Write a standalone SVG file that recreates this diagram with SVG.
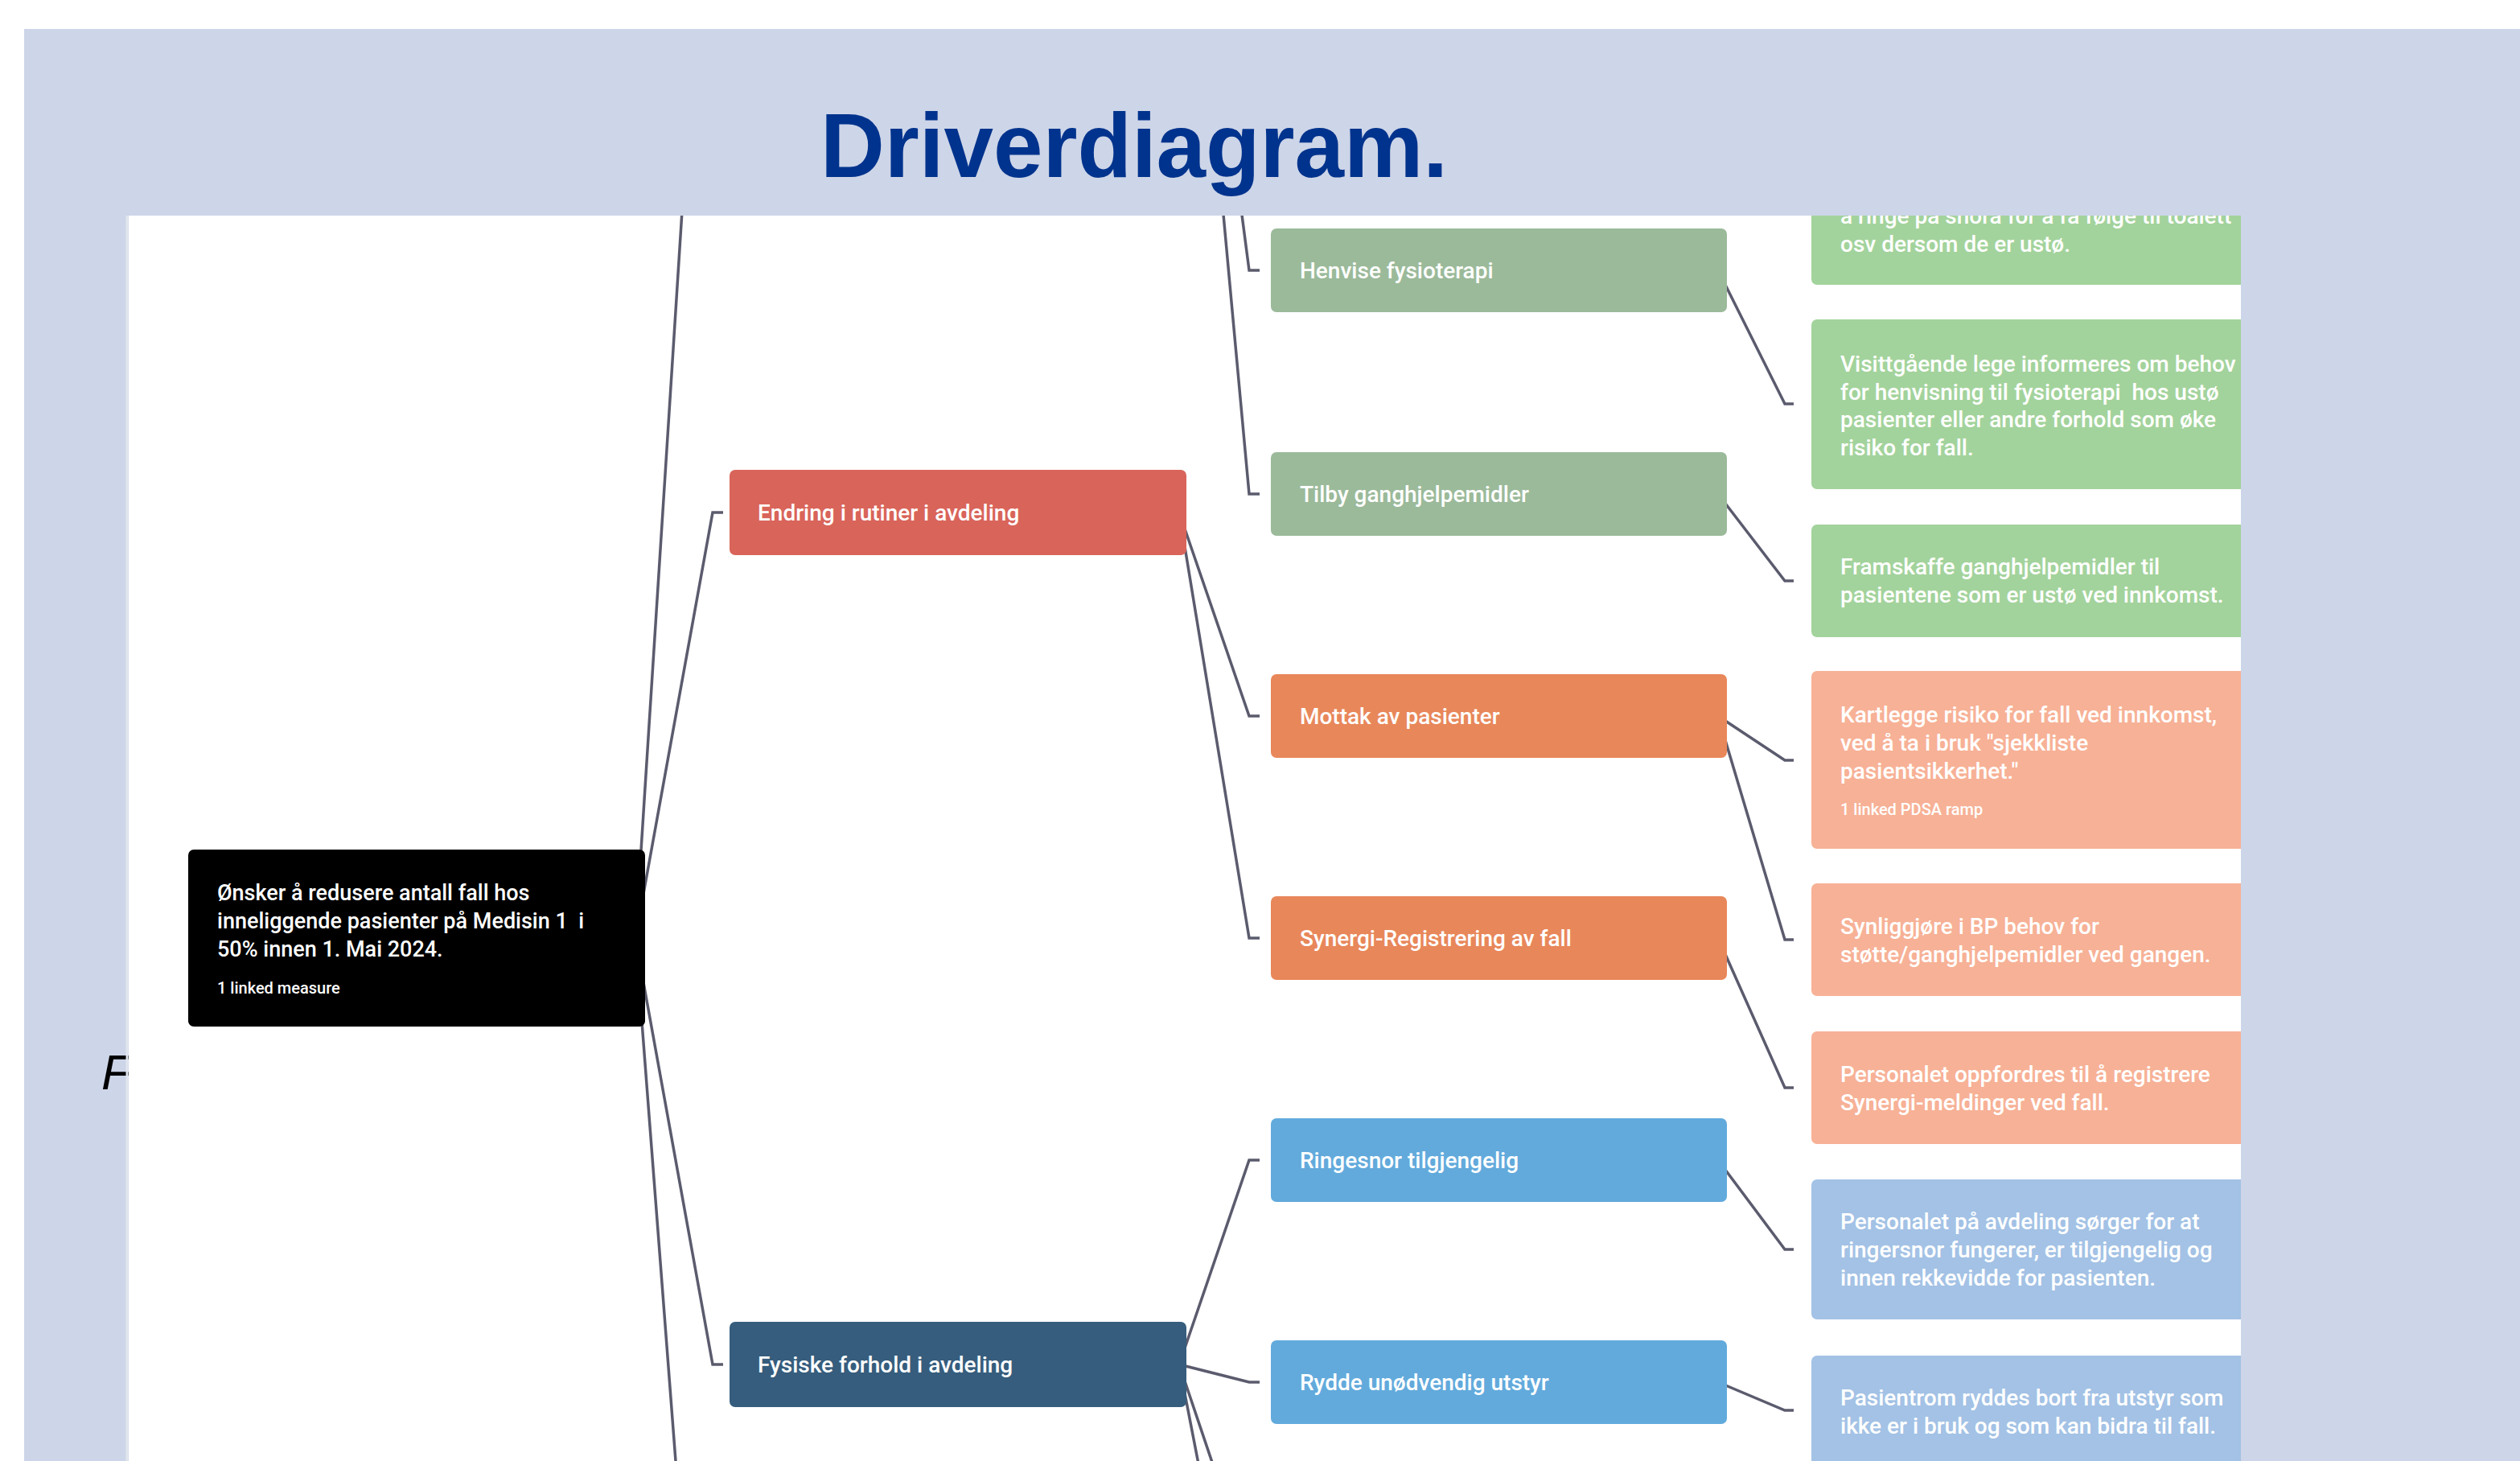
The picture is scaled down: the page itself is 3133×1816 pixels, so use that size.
<svg xmlns="http://www.w3.org/2000/svg" width="3133" height="1816" viewBox="0 0 3133 1816">
<defs>
<clipPath id="panel"><rect x="160" y="268" width="2626" height="1548"/></clipPath>
<style>
.lbl{font-family:Roboto,"Liberation Sans",sans-serif;font-size:28px;font-weight:500;fill:#ffffff;white-space:pre}
.txt{font-family:Roboto,"Liberation Sans",sans-serif;font-size:28px;font-weight:500;fill:#ffffff;white-space:pre}
.rt{font-family:Roboto,"Liberation Sans",sans-serif;font-size:27px;font-weight:500;fill:#ffffff;white-space:pre}
.small{font-family:Roboto,"Liberation Sans",sans-serif;font-size:20px;font-weight:500;fill:#ffffff}
.conn{fill:none;stroke:#5B5B6E;stroke-width:3.5;stroke-linejoin:miter}
.g2{fill:#9BBA9A}.g3{fill:#A3D39C}
.o2{fill:#E8875A}.o3{fill:#F7B196}
.b2{fill:#62AADC}.b3{fill:#A3C2E5}
</style>
</defs>
<rect x="0" y="0" width="3133" height="1816" fill="#ffffff"/>
<rect x="30" y="36" width="3103" height="1780" fill="#CDD5E8"/>
<text x="1020" y="220" font-family="'Liberation Sans',Arial,sans-serif" font-weight="bold" font-size="114" fill="#00338D" textLength="780" lengthAdjust="spacingAndGlyphs">Driverdiagram.</text>
<text x="126" y="1354" font-family="'Liberation Sans',Arial,sans-serif" font-style="italic" font-size="62" fill="#000000">F</text>
<rect x="160" y="268" width="2626" height="1548" fill="#ffffff"/>
<line x1="158" y1="268" x2="158" y2="1816" stroke="#E2E6EE" stroke-width="3"/>
<g clip-path="url(#panel)">
<g id="connectors">
<path class="conn" d="M790,1166 L886,-330 L899,-330"/>
<path class="conn" d="M790,1166 L886,637 L899,637"/>
<path class="conn" d="M790,1166 L886,1696 L899,1696"/>
<path class="conn" d="M790,1166 L886,2414 L899,2414"/>
<path class="conn" d="M1466,-330 L1553,336 L1566,336"/>
<path class="conn" d="M1466,-330 L1553,614 L1566,614"/>
<path class="conn" d="M1466,637 L1553,890 L1566,890"/>
<path class="conn" d="M1466,637 L1553,1166 L1566,1166"/>
<path class="conn" d="M1466,1696 L1553,1442 L1566,1442"/>
<path class="conn" d="M1466,1696 L1553,1718 L1566,1718"/>
<path class="conn" d="M1466,1696 L1553,1954 L1566,1954"/>
<path class="conn" d="M1466,1696 L1553,2144 L1566,2144"/>
<path class="conn" d="M2136,336 L2219,502 L2230,502"/>
<path class="conn" d="M2136,614 L2219,722 L2230,722"/>
<path class="conn" d="M2136,890 L2219,945 L2230,945"/>
<path class="conn" d="M2136,890 L2219,1168 L2230,1168"/>
<path class="conn" d="M2136,1166 L2219,1352 L2230,1352"/>
<path class="conn" d="M2136,1442 L2219,1553 L2230,1553"/>
<path class="conn" d="M2136,1718 L2219,1753 L2230,1753"/>
</g>
<g id="root">
<rect x="234" y="1056" width="568" height="220" rx="7" fill="#000000"/>
<text class="rt" x="270" y="1119">Ønsker å redusere antall fall hos</text>
<text class="rt" x="270" y="1154">inneliggende pasienter på Medisin 1  i</text>
<text class="rt" x="270" y="1189">50% innen 1. Mai 2024.</text>
<text class="small" x="270" y="1235">1 linked measure</text>
</g>
<g id="endring">
<rect x="907" y="584" width="568" height="106" rx="7" fill="#D9645A"/>
<text class="lbl" x="942" y="647">Endring i rutiner i avdeling</text>
</g>
<g id="fysiske">
<rect x="907" y="1643" width="568" height="106" rx="7" fill="#365D7D"/>
<text class="lbl" x="942" y="1706">Fysiske forhold i avdeling</text>
</g>
<g id="henvise">
<rect class="g2" x="1580" y="284" width="567" height="104" rx="7"/>
<text class="lbl" x="1616" y="346">Henvise fysioterapi</text>
</g>
<g id="tilby">
<rect class="g2" x="1580" y="562" width="567" height="104" rx="7"/>
<text class="lbl" x="1616" y="624">Tilby ganghjelpemidler</text>
</g>
<g id="mottak">
<rect class="o2" x="1580" y="838" width="567" height="104" rx="7"/>
<text class="lbl" x="1616" y="900">Mottak av pasienter</text>
</g>
<g id="synergi">
<rect class="o2" x="1580" y="1114" width="567" height="104" rx="7"/>
<text class="lbl" x="1616" y="1176">Synergi-Registrering av fall</text>
</g>
<g id="ringesnor">
<rect class="b2" x="1580" y="1390" width="567" height="104" rx="7"/>
<text class="lbl" x="1616" y="1452">Ringesnor tilgjengelig</text>
</g>
<g id="rydde">
<rect class="b2" x="1580" y="1666" width="567" height="104" rx="7"/>
<text class="lbl" x="1616" y="1728">Rydde unødvendig utstyr</text>
</g>
<g id="ide-a">
<rect class="g3" x="2252" y="178" width="620" height="176" rx="7"/>
<text class="txt" x="2288" y="278">å ringe på snora for å få følge til toalett</text>
<text class="txt" x="2288" y="313">osv dersom de er ustø.</text>
</g>
<g id="ide-b">
<rect class="g3" x="2252" y="397" width="620" height="211" rx="7"/>
<text class="txt" x="2288" y="462">Visittgående lege informeres om behov</text>
<text class="txt" x="2288" y="497">for henvisning til fysioterapi  hos ustø</text>
<text class="txt" x="2288" y="531">pasienter eller andre forhold som øke</text>
<text class="txt" x="2288" y="566">risiko for fall.</text>
</g>
<g id="ide-c">
<rect class="g3" x="2252" y="652" width="620" height="140" rx="7"/>
<text class="txt" x="2288" y="714">Framskaffe ganghjelpemidler til</text>
<text class="txt" x="2288" y="749">pasientene som er ustø ved innkomst.</text>
</g>
<g id="ide-d">
<rect class="o3" x="2252" y="834" width="620" height="221" rx="7"/>
<text class="txt" x="2288" y="898">Kartlegge risiko for fall ved innkomst,</text>
<text class="txt" x="2288" y="933">ved å ta i bruk "sjekkliste</text>
<text class="txt" x="2288" y="968">pasientsikkerhet."</text>
<text class="small" x="2288" y="1013">1 linked PDSA ramp</text>
</g>
<g id="ide-e">
<rect class="o3" x="2252" y="1098" width="620" height="140" rx="7"/>
<text class="txt" x="2288" y="1161">Synliggjøre i BP behov for</text>
<text class="txt" x="2288" y="1196">støtte/ganghjelpemidler ved gangen.</text>
</g>
<g id="ide-f">
<rect class="o3" x="2252" y="1282" width="620" height="140" rx="7"/>
<text class="txt" x="2288" y="1345">Personalet oppfordres til å registrere</text>
<text class="txt" x="2288" y="1380">Synergi-meldinger ved fall.</text>
</g>
<g id="ide-g">
<rect class="b3" x="2252" y="1466" width="620" height="174" rx="7"/>
<text class="txt" x="2288" y="1528">Personalet på avdeling sørger for at</text>
<text class="txt" x="2288" y="1563">ringersnor fungerer, er tilgjengelig og</text>
<text class="txt" x="2288" y="1598">innen rekkevidde for pasienten.</text>
</g>
<g id="ide-h">
<rect class="b3" x="2252" y="1685" width="620" height="140" rx="7"/>
<text class="txt" x="2288" y="1747">Pasientrom ryddes bort fra utstyr som</text>
<text class="txt" x="2288" y="1782">ikke er i bruk og som kan bidra til fall.</text>
</g>
</g>
</svg>
